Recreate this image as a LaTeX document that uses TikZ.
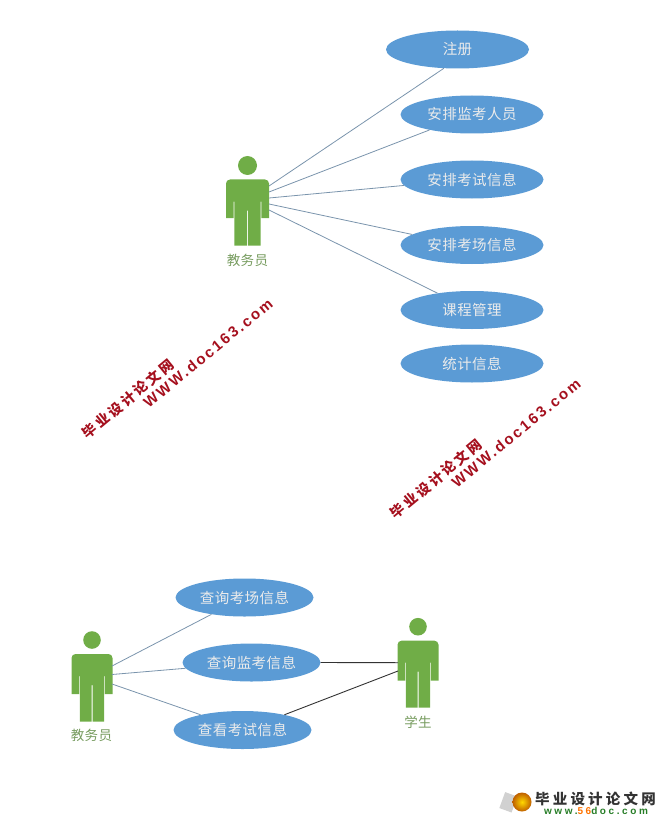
\documentclass[tikz,border=0pt]{standalone}
\usepackage{fontspec}
\setmainfont{Liberation Sans}
\newfontfamily\cjk{Noto Sans CJK SC}
\newfontfamily\cjkspaced[LetterSpace=3]{Noto Sans CJK SC}
\newfontfamily\cjkwm[LetterSpace=20]{Noto Sans CJK SC}
\newfontfamily\urlwm[LetterSpace=15]{Liberation Sans}
\newfontfamily\cjklogo[LetterSpace=22]{Noto Sans CJK SC}
\newfontfamily\urllogo[LetterSpace=26]{Liberation Sans}
\definecolor{ublue}{HTML}{5B9BD5}
\definecolor{ugreen}{HTML}{70AD47}
\definecolor{uline}{HTML}{7A94AC}
\definecolor{wmred}{HTML}{A5101E}
\tikzset{
  usecase/.style={ellipse,fill=ublue,minimum width=143pt,minimum height=38pt,inner sep=0pt,text=white!92!black,font=\cjkspaced\fontsize{14.5}{15}\selectfont},
  usecaseb/.style={usecase,minimum width=138pt},
  assoc/.style={uline,line width=0.8pt},
  assocb/.style={black!80,line width=0.9pt},
  actorlabel/.style={text=ugreen!75!black!80!white,font=\cjkspaced\fontsize{13.5}{14}\selectfont,inner sep=0pt},
  wmcjk/.style={text=wmred,rotate=39.5,inner sep=0pt,font=\cjkwm\bfseries\fontsize{14}{14}\selectfont},
  wmurl/.style={text=wmred,rotate=39.5,inner sep=0pt,font=\urlwm\bfseries\fontsize{15}{15}\selectfont},
}
\usetikzlibrary{shapes.geometric}
% #1 centre x, #2 head centre y, #3 half width of the body, #4 head radius, #5 arm bottom, #6 leg bottom (y offsets)
\newcommand{\umlfigure}[6]{%
  \fill[ugreen] (#1,#2) circle[radius=#4];
  \fill[ugreen] ({#1-#3},{#2+#5}) -- ({#1-#3},{#2+18})
     arc[start angle=180,end angle=270,radius=4]  -- ({#1+#3-4},{#2+14})
     arc[start angle=270,end angle=360,radius=4] -- ({#1+#3},{#2+#5})
     -- ({#1+#3-7.6},{#2+#5}) -- ({#1+#3-7.6},{#2+36}) -- ({#1+#3-8.3},{#2+36})
     -- ({#1+#3-8.3},{#2+#6}) -- ({#1+.5},{#2+#6}) -- ({#1+.5},{#2+45}) -- ({#1-.5},{#2+45})
     -- ({#1-.5},{#2+#6}) -- ({#1-#3+8.3},{#2+#6}) -- ({#1-#3+8.3},{#2+36})
     -- ({#1-#3+7.6},{#2+36}) -- ({#1-#3+7.6},{#2+#5}) -- cycle;
}
\begin{document}
\begin{tikzpicture}[x=1pt,y=-1pt]
\useasboundingbox (0,0) rectangle (665,821);
% top use cases
\node[usecase] (e1) at (457.5,49.5) {注册};
\node[usecase] (e2) at (472,114.5) {安排监考人员};
\node[usecase] (e3) at (472,179.5) {安排考试信息};
\node[usecase] (e4) at (472,245) {安排考场信息};
\node[usecase] (e5) at (472,310) {课程管理};
\node[usecase] (e6) at (472,363.5) {统计信息};
% top actor
\umlfigure{247.5}{165.5}{21.5}{9.5}{52.5}{80}
\node[actorlabel] (a1l) at (247.5,260) {教务员};
\coordinate (p1) at (269,186);
\coordinate (p2) at (269,192);
\coordinate (p3) at (269,198);
\coordinate (p4) at (269,204);
\coordinate (p5) at (269,210);
\draw[assoc] (p1) -- (e1.234);
\draw[assoc] (p2) -- (e2.200);
\draw[assoc] (p3) -- (e3.185);
\draw[assoc] (p4) -- (e4.170);
\draw[assoc] (p5) -- (e5.154);
% bottom use cases
\node[usecaseb] (b1) at (244.5,597.5) {查询考场信息};
\node[usecaseb] (b2) at (251.5,662.5) {查询监考信息};
\node[usecaseb] (b3) at (242.5,730) {查看考试信息};
\umlfigure{92}{640}{20.5}{8.8}{54}{81.7}
\node[actorlabel] (a2l) at (91.5,735.5) {教务员};
\umlfigure{418}{626.7}{20.5}{8.8}{54}{81}
\node[actorlabel] (a3l) at (418,722) {学生};
\coordinate (q1) at (112,666);
\coordinate (q2) at (112,674.5);
\coordinate (q3) at (112,684);
\coordinate (r1) at (398,662.7);
\coordinate (r2) at (398,671);
\draw[assoc] (q1) -- (b1.207);
\draw[assoc] (q2) -- (b2.185.5);
\draw[assoc] (q3) -- (b3.160);
\draw[assocb] (b2.east) -- (r1);
\draw[assocb] (b3.20.6) -- (r2);
% watermarks
\node[wmcjk] (w1) at (128,399) {毕业设计论文网};
\node[wmurl] (w2) at (208,353) {WWW.doc163.com};
\node[wmcjk] (w3) at (436,479) {毕业设计论文网};
\node[wmurl] (w4) at (516,433) {WWW.doc163.com};
% logo
\fill[black!18,rotate around={-20:(509,802)}] (502,794) rectangle (515,811);
\shade[inner color=yellow!70!orange,outer color=orange!75!black] (522,802) circle[radius=9.5];
\node[inner sep=0pt,text=black!80,font=\cjklogo\bfseries\fontsize{14.5}{15}\selectfont] (l1) at (595.5,799) {毕业设计论文网};
\node[inner sep=0pt,text=green!40!black!85,font=\urllogo\bfseries\fontsize{10}{10}\selectfont] (l2) at (596,811) {www.\textcolor{orange!90!red}{56}doc.com};
\end{tikzpicture}
\end{document}
